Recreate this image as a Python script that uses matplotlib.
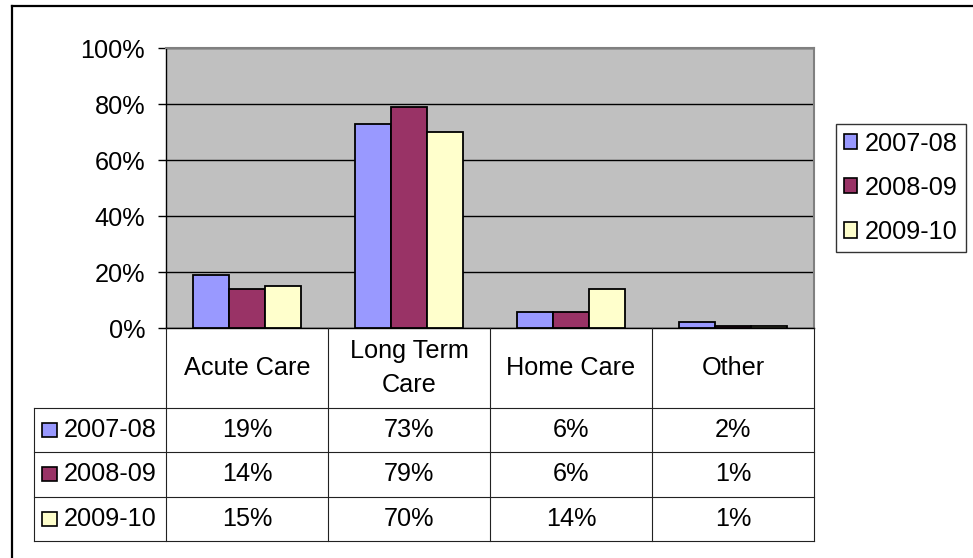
import numpy as np
import matplotlib
matplotlib.use('Agg')
import matplotlib.pyplot as plt
from matplotlib.lines import Line2D
from matplotlib.patches import Rectangle

plt.rcParams['font.family'] = ['Liberation Sans', 'DejaVu Sans']

# Data
categories = ['Acute Care', 'Long Term\nCare', 'Home Care', 'Other']
years = ['2007-08', '2008-09', '2009-10']
share_0708 = [19.0, 72.9, 5.6, 2.0]
share_0809 = [14.0, 79.1, 5.6, 0.8]
share_0910 = [14.9, 69.9, 13.9, 0.7]
series = [share_0708, share_0809, share_0910]
colors = ['#9999FF', '#993366', '#FFFFCC']
yticks = [0, 20, 40, 60, 80, 100]

FS = 18.2
W, H = 973, 558
fig = plt.figure(figsize=(W / 100, H / 100), dpi=100)


def fx(px):
    return px / W


def fy(py):
    return 1 - py / H


# main bar area
ax = fig.add_axes([fx(166), fy(328), fx(814) - fx(166), fy(48) - fy(328)])
ax.set_facecolor('#C0C0C0')
x = np.arange(len(categories))
bw = 36 / 162
for i, vals in enumerate(series):
    ax.bar(x + (i - 1) * bw, vals, width=bw, color=colors[i],
           edgecolor='black', linewidth=1.3, zorder=3)
ax.set_xlim(-0.5, len(categories) - 0.5)
ax.set_ylim(0, 100)
ax.set_yticks(yticks)
ax.set_yticklabels([f'{t}%' for t in yticks], fontsize=FS)
ax.set_xticks([])
ax.yaxis.grid(True, color='black', linewidth=1)
ax.set_axisbelow(True)
ax.tick_params(axis='y', length=6, width=1, pad=9, direction='out')
for s in ['top', 'right']:
    ax.spines[s].set_color('#808080')
    ax.spines[s].set_linewidth(1.5)
for s in ['left', 'bottom']:
    ax.spines[s].set_color('black')
    ax.spines[s].set_linewidth(1)

# data table below the chart
label_w = 132 / 162
hdr_h = 80
row_h = 44.3
tbl_h = hdr_h + row_h * len(years)
tax = fig.add_axes([fx(34), fy(328 + tbl_h), fx(814) - fx(34), tbl_h / H])
tax.set_xlim(-0.5 - label_w, len(categories) - 0.5)
tax.set_ylim(tbl_h, 0)
tax.axis('off')
lc = '#222222'
left = -0.5 - label_w
right = len(categories) - 0.5
for i in range(len(categories) + 1):
    tax.plot([i - 0.5, i - 0.5], [0, tbl_h], color=lc, lw=0.8, clip_on=False)
tax.plot([left, left], [hdr_h, tbl_h], color=lc, lw=0.8, clip_on=False)
for j in range(len(years) + 1):
    yy = hdr_h + j * row_h
    tax.plot([left, right], [yy, yy], color=lc, lw=0.8, clip_on=False)

for i, cat in enumerate(categories):
    tax.text(i, hdr_h / 2, cat, ha='center', va='center', fontsize=FS,
             linespacing=1.5)

unit = 1 / 162
for j, (yr, vals) in enumerate(zip(years, series)):
    yc = hdr_h + (j + 0.5) * row_h
    tax.add_patch(Rectangle((left + 8 * unit, yc - 7), 15 * unit, 14,
                            facecolor=colors[j], edgecolor='black', lw=1.2,
                            clip_on=False))
    tax.text(left + 30 * unit, yc, yr, ha='left', va='center', fontsize=FS)
    for i, v in enumerate(vals):
        tax.text(i, yc, f'{v:.0f}%', ha='center', va='center', fontsize=FS)

# legend
handles = [Rectangle((0, 0), 1, 1, facecolor=c, edgecolor='black', lw=1.2)
           for c in colors]
leg = fig.legend(handles, years, loc='upper left',
                 bbox_to_anchor=(fx(836), fy(124)), fontsize=FS,
                 frameon=True, fancybox=False, edgecolor='black',
                 borderaxespad=0, borderpad=0.3, handlelength=0.55,
                 handleheight=0.55, handletextpad=0.3, labelspacing=0.8)
leg.get_frame().set_linewidth(1)

# outer chart border (cut off at right and bottom)
fig.add_artist(Line2D([fx(12), fx(12)], [fy(6), 0], transform=fig.transFigure,
                      color='black', lw=1.6))
fig.add_artist(Line2D([fx(12), 1], [fy(6), fy(6)], transform=fig.transFigure,
                      color='black', lw=1.6))

fig.savefig('out.png', dpi=100)
